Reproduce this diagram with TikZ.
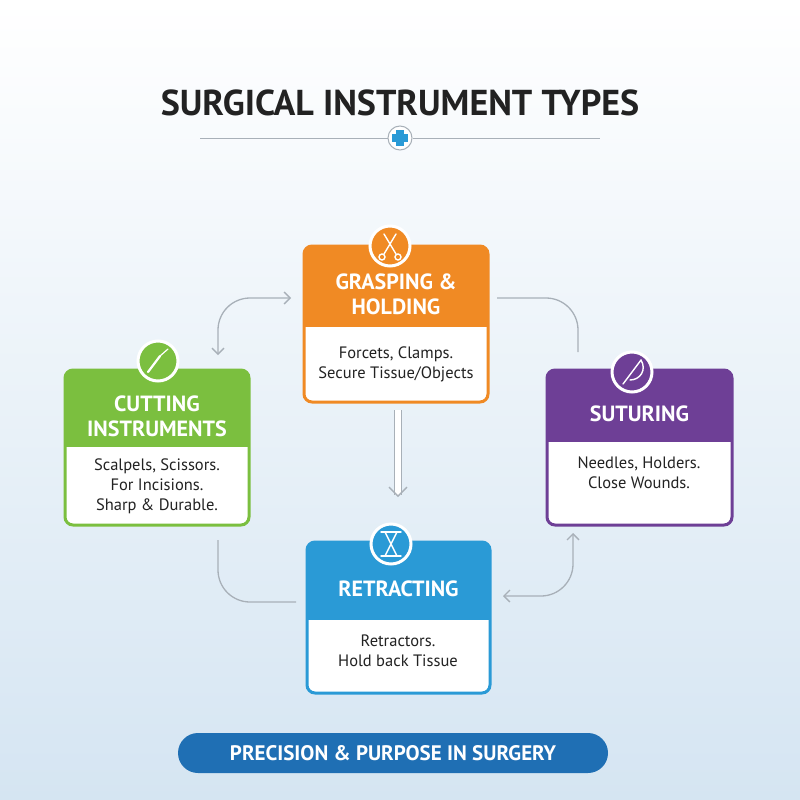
\documentclass[tikz,border=0pt]{standalone}
\usepackage{fontspec}
\setmainfont{PT Sans}
\usetikzlibrary{arrows.meta,calc}
\definecolor{org}{HTML}{F08A24}
\definecolor{grn}{HTML}{7BBF3F}
\definecolor{pur}{HTML}{6E3F96}
\definecolor{blu}{HTML}{2A9AD6}
\definecolor{ban}{HTML}{1F6FB4}
\definecolor{conn}{HTML}{A8B0B8}
\definecolor{txt}{HTML}{222222}
\definecolor{bgb}{HTML}{D5E5F2}
\begin{document}
\begin{tikzpicture}[x=1pt,y=-1pt,
  card/.style={draw=#1,line width=3pt,rounded corners=8pt},
  hdr/.style={text=white,font=\bfseries\fontsize{22}{25}\selectfont,align=center},
  body/.style={text=txt,font=\fontsize{16.5}{20}\selectfont,align=center},
  icn/.style={circle,fill=#1,draw=white,line width=3pt,minimum size=40pt},
  conline/.style={draw=conn,line width=1.3pt},
  bar/.tip={Straight Barb[length=6pt,width=12pt]}]
\shade[top color=white,bottom color=bgb] (0,0) rectangle (800,800);
\useasboundingbox (0,0) rectangle (800,800);
% title
\node[font=\bfseries\fontsize{36}{40}\selectfont,text=txt] (title) at (400,103) {SURGICAL INSTRUMENT TYPES};
\coordinate (l1) at (200,138); \coordinate (l2) at (600,138);
\node[circle,draw=conn,fill=white,line width=1pt,minimum size=24pt] (tic) at (400,138) {};
\draw[conline,line width=1pt] (l1) -- (tic); \draw[conline,line width=1pt] (tic) -- (l2);
\fill[blu] (396,130) rectangle (404,146); \fill[blu] (392,134) rectangle (408,142);
% cards
\newcommand{\mycard}[8]{%
 \begin{scope}
 \clip[rounded corners=8pt] (#1,#2) rectangle (#3,#4);
 \fill[white] (#1,#2) rectangle (#3,#4);
 \fill[#5] (#1,#2) rectangle (#3,#6);
 \end{scope}
 \draw[card=#5] (#1,#2) rectangle (#3,#4);
 \node[hdr] (#8h) at ({(#1+#3)/2},{(#2+#6)/2+8}) {#7};
}
\mycard{304}{246}{488}{402}{org}{327}{GRASPING \&\\HOLDING}{g}
\node[body] (gb) at (396,364) {Forcets, Clamps.\\Secure Tissue/Objects};
\mycard{65}{370}{249}{525}{grn}{447}{CUTTING\\INSTRUMENTS}{c}
\node[body] (cb) at (157,486) {Scalpels, Scissors.\\For Incisions.\\Sharp \& Durable.};
\mycard{547}{370}{732}{525}{pur}{442}{SUTURING}{s}
\node[body] (sb) at (639,473) {Needles, Holders.\\Close Wounds.};
\mycard{307}{542}{490}{693}{blu}{620}{RETRACTING}{r}
\node[body] (rb) at (398,651) {Retractors.\\Hold back Tissue};
% icons
\node[icn=org] (gi) at (390,246) {};
\node[icn=grn] (ci) at (158,361) {};
\node[icn=pur] (si) at (632,372) {};
\node[icn=blu] (ri) at (391,544) {};
\begin{scope}[white,line width=1.4pt,line cap=round]
 \draw (384,234) -- (396,254); \draw (396,234) -- (384,254);
 \draw (382,257) circle (3); \draw (398,257) circle (3);
 \draw[line width=2.2pt] (148,372) -- (160,356); \draw[line width=1.2pt] (160,356) -- (168,349);
 \draw (623,384) -- (641,360); \draw (641,360) .. controls (647,370) and (640,380) .. (630,380);
 \draw (381,532) -- (401,532); \draw (385,532) -- (397,556); \draw (397,532) -- (385,556); \draw (381,556) -- (401,556);
\end{scope}
% connectors
\coordinate (a1) at (218,355); \coordinate (a2) at (291,298);
\draw[conline,bar-bar] (a1) -- (218,330) arc (180:270:32) -- (a2);
\coordinate (b1) at (497,298); \coordinate (b2) at (578,352);
\draw[conline] (b1) -- (546,298) arc (270:360:32) -- (b2);
\coordinate (d1) at (218,540); \coordinate (d2) at (296,602);
\draw[conline] (d1) -- (218,570) arc (180:90:32) -- (d2);
\coordinate (e1) at (573,533); \coordinate (e2) at (503,596);
\draw[conline,bar-bar] (e1) -- (573,564) arc (0:90:32) -- (e2);
\coordinate (m1) at (398,410); \coordinate (m2) at (398,497);
\draw[conn,double=white!0,double distance=6pt,line width=1.3pt,-{Straight Barb[length=9pt,width=18pt]}] (m1) -- (m2);
% banner
\node[fill=ban,rounded corners=20pt,minimum width=430pt,minimum height=40pt,text=white,font=\bfseries\fontsize{21}{23}\selectfont] (ban) at (393,753) {PRECISION \& PURPOSE IN SURGERY};
\end{tikzpicture}
\end{document}
